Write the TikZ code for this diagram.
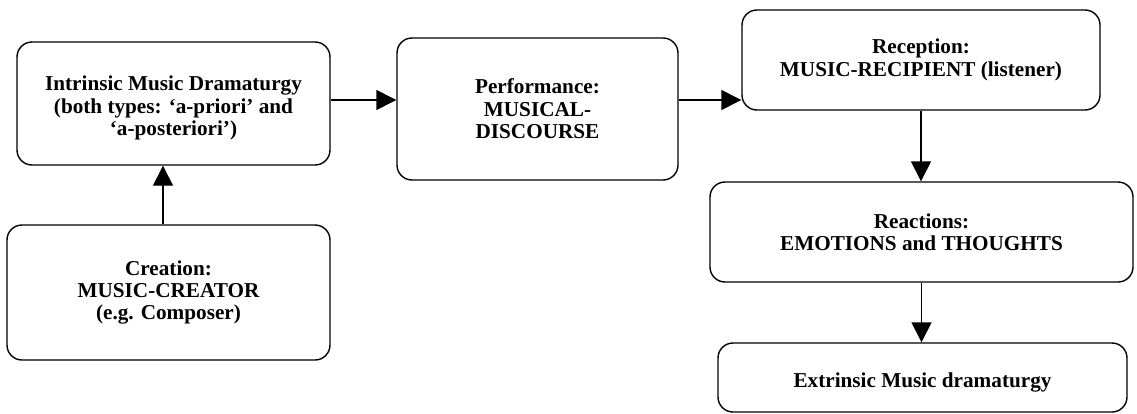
\documentclass[tikz,border=0pt]{standalone}
\usepackage{fontspec}
\setmainfont{Liberation Serif}
\usepackage{tikz}
\usetikzlibrary{arrows.meta}

\begin{document}
\begin{tikzpicture}[x=0.5pt,y=-0.5pt,
    box/.style={draw,rounded corners=7.5pt,line width=0.7pt,align=center,inner sep=0pt,
        font=\fontsize{10.6}{11.2}\selectfont\bfseries},
    arr/.style={line width=0.7pt,-{Triangle[length=10pt,width=10pt]}}]

        \useasboundingbox (0,0) rectangle (1137,413);

        \node[box,minimum width=156.5pt,minimum height=61.5pt] (intr) at (173.5,103.5) {\rule{0pt}{12pt}Intrinsic Music Dramaturgy\\(both types: ‘a-priori’ and\\‘a-posteriori’)};
        \node[box,minimum width=140.5pt,minimum height=71pt] (perf) at (537.5,109) {Performance:\\MUSICAL-\\DISCOURSE};
        \node[box,minimum width=179pt,minimum height=50pt] (recep) at (921,60) {Reception:\\MUSIC-RECIPIENT (listener)};
        \node[box,minimum width=211.5pt,minimum height=50pt] (react) at (921.5,232) {Reactions:\\EMOTIONS and THOUGHTS};
        \node[box,minimum width=204.5pt,minimum height=34.5pt] (extr) at (922.5,377.5) {\rule{0pt}{12pt}Extrinsic Music dramaturgy};
        \node[box,minimum width=161.5pt,minimum height=67.5pt] (creat) at (168.5,292.5) {Creation:\\MUSIC-CREATOR\\(e.g. Composer)};

        \draw[arr] ([yshift=1.75pt]intr.east) -- ([yshift=1.75pt]intr.east -| perf.west);
        \draw[arr] ([yshift=4.5pt]perf.east) -- ([yshift=4.5pt]perf.east -| recep.west);
        \draw[arr] (recep.south) -- (recep.south |- react.north);
        \draw[arr] (react.south) -- (react.south |- extr.north);
        \draw[arr] ([xshift=-2.75pt]creat.north) -- ([xshift=-2.75pt]creat.north |- intr.south);

\end{tikzpicture}
\end{document}
